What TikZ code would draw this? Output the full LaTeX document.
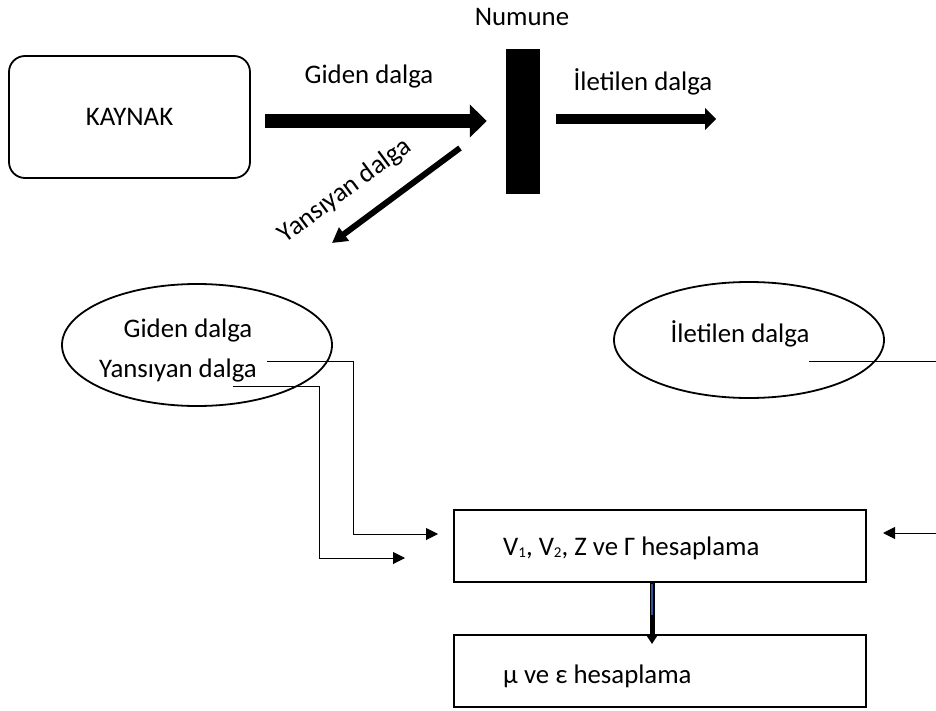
\documentclass[tikz,border=0pt]{standalone}
\usepackage{fontspec}
\setmainfont{Carlito}
\usetikzlibrary{arrows.meta,shapes.geometric}
\definecolor{arrowblue}{RGB}{47,85,151}
\newcommand{\mysub}[1]{\raisebox{-2.5pt}{\fontsize{15}{15}\selectfont #1}}
\begin{document}
\begin{tikzpicture}[x=1pt,y=-1pt,
  font=\fontsize{26.8}{31}\selectfont,
  lbl/.style={inner sep=0pt},
  rbox/.style={draw, line width=1.8pt, rounded corners=16pt, inner sep=0pt},
  sbox/.style={draw, line width=2pt, inner sep=0pt},
  ell/.style={draw, ellipse, line width=1.8pt, inner sep=0pt},
  conn/.style={line width=1pt},
  tip/.style={-{Triangle[length=12pt 0 0,width=12pt 0 0]}},
  bigarrow/.style={line width=14pt, -{Triangle[length=17pt 0 0,width=32pt 0 0]}},
  midarrow/.style={line width=10pt, -{Triangle[length=11pt 0 0,width=21pt 0 0]}},
  refarrow/.style={line width=6pt, -{Triangle[length=15pt 0 0,width=16pt 0 0]}}
]
\useasboundingbox (0,0) rectangle (936,711);
\fill[white] (0,0) rectangle (936,711);

% top part
\node[rbox, minimum width=241pt, minimum height=122pt] (kaynak) at (129.5,117) {};
\node[lbl] (kaynaktxt) at (kaynak.center) {KAYNAK};
\node[fill=black, inner sep=0pt, minimum width=34pt, minimum height=145pt] (numune) at (523,121.5) {};
\node[lbl] (numunetxt) at (522,17) {Numune};

\draw[bigarrow] ([xshift=14pt,yshift=-4pt]kaynak.east) -- ([xshift=-19pt,yshift=0.5pt]numune.west);
\node[lbl] (gidenlbl) at (369,77) {Giden dalga};

\draw[midarrow] ([xshift=16pt,yshift=2.5pt]numune.east) -- ([xshift=176pt,yshift=2.5pt]numune.east);
\node[lbl] (iletlbl) at (643,82) {İletilen dalga};

\coordinate (rstart) at (460,148);
\coordinate (rend) at (332,243);
\draw[refarrow] (rstart) -- (rend);
\node[lbl, rotate=36.6] (yanslbl) at (345,191) {Yansıyan dalga};

% ellipses
\node[ell, minimum width=270pt, minimum height=122pt] (lell) at (197,345) {};
\node[lbl] (lg) at (188,330) {Giden dalga};
\node[lbl] (ly) at (178,370) {Yansıyan dalga};
\node[ell, minimum width=270pt, minimum height=116pt] (rell) at (749,340) {};
\node[lbl] (ri) at (740,334) {İletilen dalga};

% boxes
\node[sbox, minimum width=412pt, minimum height=72pt] (vbox) at (660,546) {};
\node[lbl, anchor=west] (vtxt) at (503,548) {V\mysub{1}, V\mysub{2}, Z ve Γ hesaplama};
\node[sbox, minimum width=412pt, minimum height=72pt] (mubox) at (660,671) {};
\node[lbl, anchor=west] (mutxt) at (503,676) {μ ve ε hesaplama};

% connectors
\coordinate (g1) at (267,361);
\coordinate (g1c) at (353,534);
\coordinate (g1t) at (438,534);
\draw[conn, tip] (g1) -| (g1c) -- (g1t);
\coordinate (g2) at (233,386);
\coordinate (g2c) at (319,558);
\coordinate (g2t) at (405,558);
\draw[conn, tip] (g2) -| (g2c) -- (g2t);

\begin{scope}
\clip (0,0) rectangle (936,711);
\coordinate (i1) at (809,361);
\coordinate (i1c) at (950,533);
\coordinate (i1t) at (883,533);
\draw[conn, tip] (i1) -| (i1c) -- (i1t);
\end{scope}

% blue arrow
\draw[line width=5pt, -{Triangle[length=9pt 0 0,width=11pt 0 0]}] (vbox.south -| 652,0) -- ([yshift=-10pt]mubox.north -| 652,0);
\draw[line width=2.6pt, arrowblue] ([yshift=-1pt]vbox.south -| 652,0) -- (652,615);
\end{tikzpicture}
\end{document}
